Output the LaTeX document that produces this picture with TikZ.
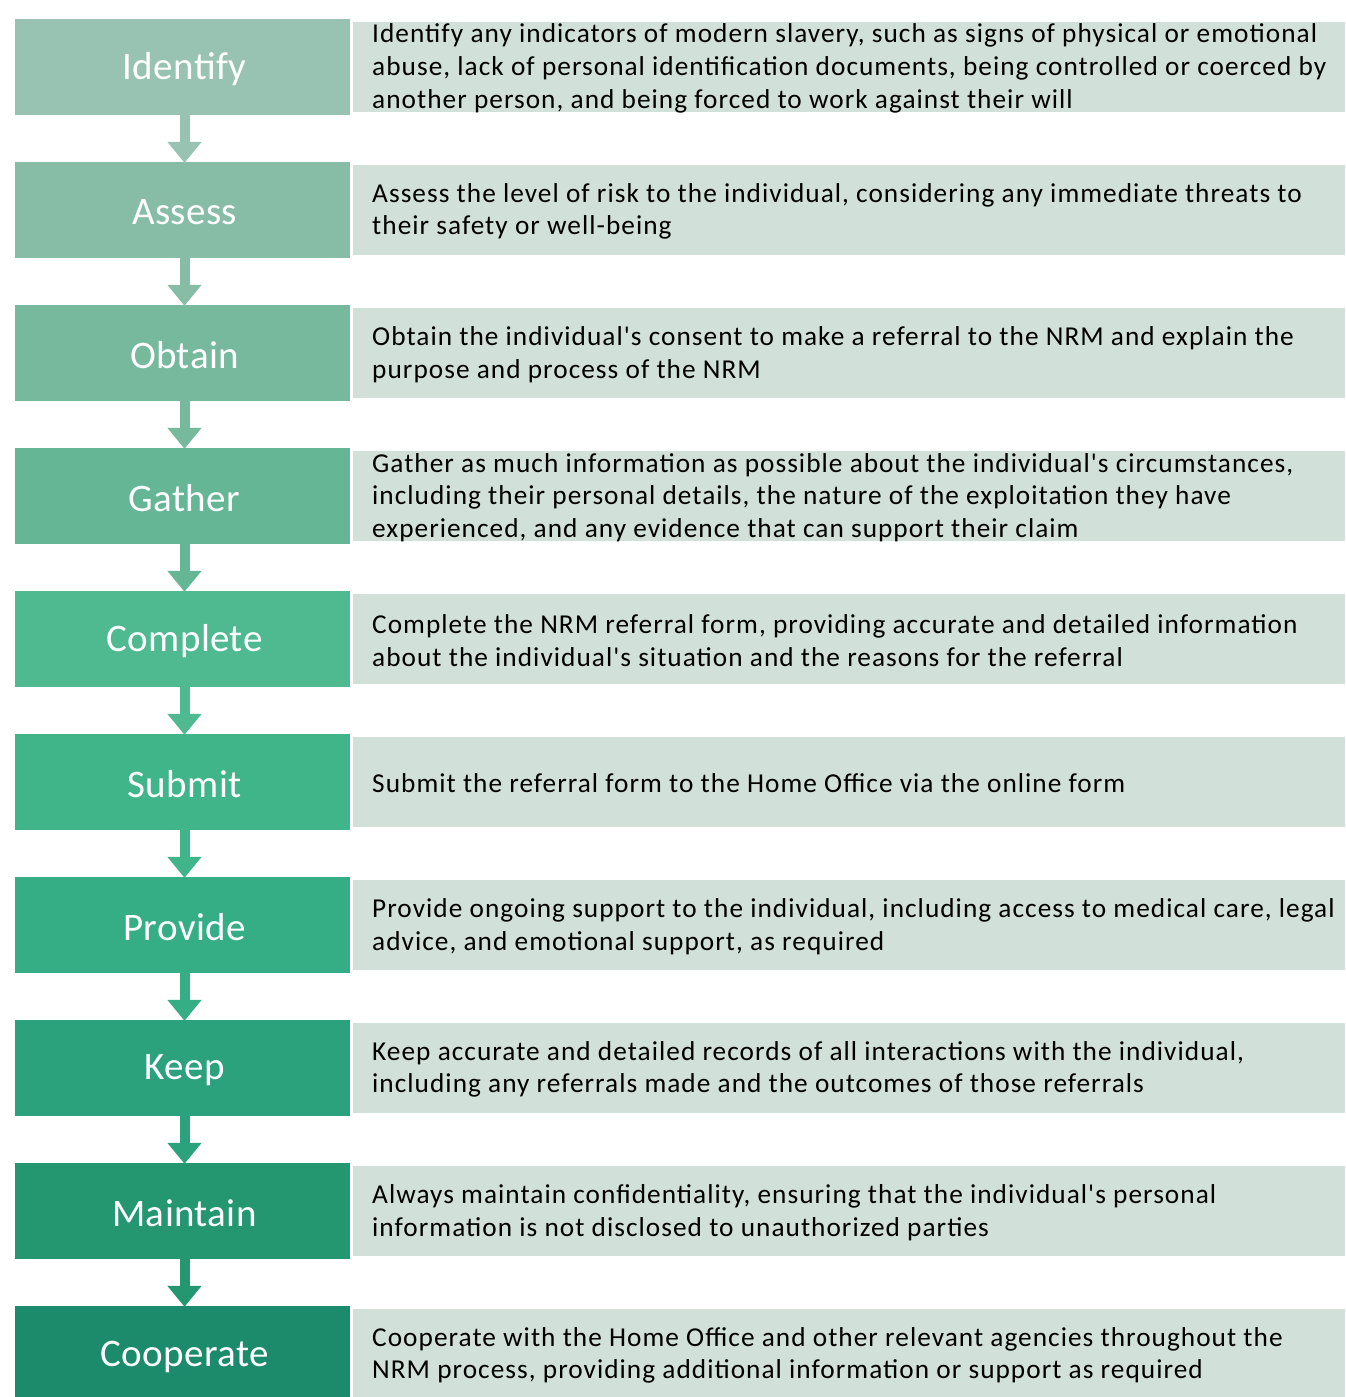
\documentclass[tikz,border=0pt]{standalone}
\usepackage{fontspec}
\setmainfont{Carlito}[Ligatures=TeXOff]
\newfontfamily\descfont{Carlito}[Ligatures=TeXOff,LetterSpace=3.8]
\newfontfamily\labfont{Carlito}[Ligatures=TeXOff,LetterSpace=1]
\usetikzlibrary{arrows.meta}
\definecolor{c1}{HTML}{98C2B1}
\definecolor{c2}{HTML}{87BDA7}
\definecolor{c3}{HTML}{76B99D}
\definecolor{c4}{HTML}{64B694}
\definecolor{c5}{HTML}{4FB98F}
\definecolor{c6}{HTML}{41B58A}
\definecolor{c7}{HTML}{35AE85}
\definecolor{c8}{HTML}{2BA27B}
\definecolor{c9}{HTML}{249670}
\definecolor{c10}{HTML}{1C8B6C}
\definecolor{descfill}{HTML}{D1E1D9}
\tikzset{
  stepbox/.style={fill=#1, draw=none, minimum width=335pt, minimum height=96pt, inner sep=0pt, text=white, font=\labfont\fontsize{39}{44}\selectfont},
  descbox/.style={fill=descfill, draw=none, minimum width=992pt, minimum height=90pt, inner sep=0pt},
  desctext/.style={anchor=west, inner sep=0pt, align=left, text=black, font=\descfont\fontsize{27.3}{32.7}\selectfont},
  flow/.style={draw=#1, line width=10pt, -{Triangle[width=33pt,length=21pt]}, shorten >=-1pt}
}
\begin{document}
\begin{tikzpicture}[x=1pt,y=-1pt]
\useasboundingbox (0,0) rectangle (1345,1397);
\fill[white] (0,0) rectangle (1345,1397);
\foreach \i/\lab/\col in {0/Identify/c1,1/Assess/c2,2/Obtain/c3,3/Gather/c4,4/Complete/c5,5/Submit/c6,6/Provide/c7,7/Keep/c8,8/Maintain/c9,9/Cooperate/c10}{
  \pgfmathsetmacro{\yc}{67+143*\i}
  \node[stepbox=\col] (s\i) at (182.5,\yc) {\hspace*{4pt}\raisebox{-2.5pt}[\height][\depth]{\lab}};
  \node[descbox] (d\i) at (849,\yc) {};
}
\node[desctext] (t0) at (372,68.5) {Identify any indicators of modern slavery, such as signs of physical or emotional\\abuse, lack of personal identification documents, being controlled or coerced by\\another person, and being forced to work against their will};
\node[desctext] (t1) at (372,211.5) {Assess the level of risk to the individual, considering any immediate threats to\\their safety or well-being};
\node[desctext] (t2) at (372,354.5) {Obtain the individual's consent to make a referral to the NRM and explain the\\purpose and process of the NRM};
\node[desctext] (t3) at (372,497.5) {Gather as much information as possible about the individual's circumstances,\\including their personal details, the nature of the exploitation they have\\experienced, and any evidence that can support their claim};
\node[desctext] (t4) at (372,640.5) {Complete the NRM referral form, providing accurate and detailed information\\about the individual's situation and the reasons for the referral};
\node[desctext] (t5) at (372,783.5) {Submit the referral form to the Home Office via the online form};
\node[desctext] (t6) at (372,926.5) {Provide ongoing support to the individual, including access to medical care, legal\\advice, and emotional support, as required};
\node[desctext] (t7) at (372,1069.5) {Keep accurate and detailed records of all interactions with the individual,\\including any referrals made and the outcomes of those referrals};
\node[desctext] (t8) at (372,1212.5) {Always maintain confidentiality, ensuring that the individual's personal\\information is not disclosed to unauthorized parties};
\node[desctext] (t9) at (372,1355.5) {Cooperate with the Home Office and other relevant agencies throughout the\\NRM process, providing additional information or support as required};
\foreach \a/\b/\col in {0/1/c1,1/2/c2,2/3/c3,3/4/c4,4/5/c5,5/6/c6,6/7/c7,7/8/c8,8/9/c9}{
  \draw[flow=\col] ([xshift=2pt]s\a.south) -- ([xshift=2pt]s\b.north);
}
\end{tikzpicture}
\end{document}
